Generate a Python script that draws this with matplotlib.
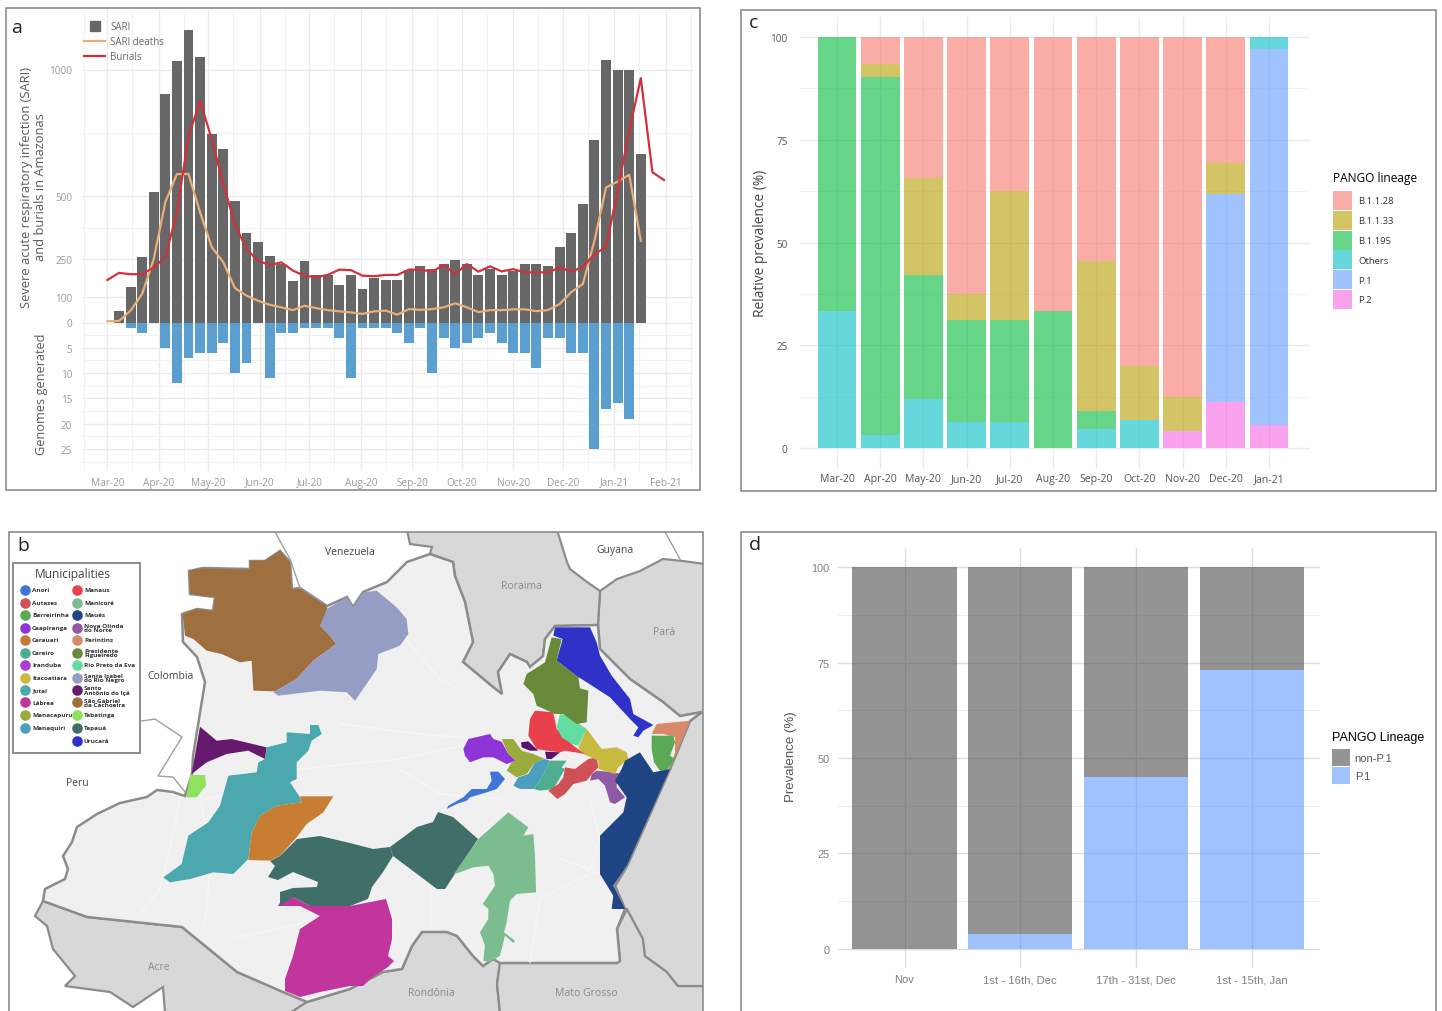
import matplotlib
matplotlib.use("Agg")
import matplotlib.pyplot as plt
import matplotlib.dates as mdates
from matplotlib.patches import Polygon, Rectangle, Patch
from matplotlib.lines import Line2D
import pandas as pd

plt.rcParams['font.family'] = ['Open Sans', 'DejaVu Sans']

W, H = 1442, 1012

# ---------- panel a data ----------
sari = [47,139,258,517,903,1035,1156,1050,745,686,479,353,317,262,231,164,244,188,188,148,188,132,
        176,169,169,207,222,211,231,248,231,187,211,189,205,231,231,224,298,353,468,722,1037,997,997,666]
genomes = [0,1,2,0,5,12,7,6,6,4,10,8,0,11,2,2,1,1,1,3,11,1,1,1,2,4,1,10,3,5,4,3,2,4,6,6,9,3,3,6,6,25,17,16,19,0]
burials = [168,196,191,191,218,258,436,737,875,725,547,389,290,244,227,238,205,185,179,188,209,207,185,183,188,188,
           209,209,201,227,192,231,201,222,202,211,198,198,198,218,201,219,270,298,521,758,966,594,563]
sari_deaths = [5,6,47,113,251,476,587,587,435,298,238,136,106,86,70,60,49,66,57,49,44,40,34,44,47,31,53,50,53,60,76,
               60,41,49,49,52,52,45,49,73,120,152,323,534,557,584,323]
sari_ticks = [0,100,250,500,1000]
genome_ticks = [5,10,15,20,25]

# ---------- panel c data ----------
months_c = ['Mar-20','Apr-20','May-20','Jun-20','Jul-20','Aug-20','Sep-20','Oct-20','Nov-20','Dec-20','Jan-21']
p2 =     [0,0,0,0,0,0,0,0,4.2,11.1,5.6]
p1 =     [0,0,0,0,0,0,0,0,0,50.8,91.6]
others = [33.3,3.2,11.8,6.25,6.25,0,4.5,6.7,0,0,2.8]
b1195 =  [66.7,87.1,30.4,25,25,33.3,4.6,0,0,0,0]
b1133 =  [0,3.2,23.4,6.25,31.25,0,36.4,13.3,8.3,7.4,0]
b1128 =  [0,6.5,34.4,62.5,37.5,66.7,54.5,80,87.5,30.7,0]
lineage_names = ['P.2','P.1','Others','B.1.195','B.1.1.33','B.1.1.28']
lineage_colors = ['#F564E3','#619CFF','#00BFC4','#00BA38','#B79F00','#F8766D']

# ---------- panel d data ----------
periods_d = ['Nov','1st - 16th, Dec','17th - 31st, Dec','1st - 15th, Jan']
p1_share = [0,4,45,73]
non_p1_share = [100,96,55,27]

# ---------- panel b data (outlines; zoom-crop coordinates) ----------
def zc(ox, oy, pts):
    return [(ox + x / 3, oy + y / 3) for x, y in pts]

amazonas = [(43,902),(45,890),(65,880),(68,870),(63,857),(72,843),(77,828),(97,815),(120,804),(147,798),(157,791),(173,793),
            (185,797),(192,775),(193,757),(205,683),(197,658),(183,643),(182,615),(197,610),(213,612),(215,598),(190,595),(189,572),(203,569),(250,570),(250,562),
            (265,562),(280,552),(290,563),(292,590),(300,589),(327,607),(347,598),(353,608),(363,593),(387,583),(407,563),(430,555),
            (453,563),(455,577),(465,603),(473,643),(463,663),(493,688),(502,695),(498,673),(510,655),(527,663),(530,668),
            (543,657),(545,640),(555,627),(598,626),(600,650),(630,680),(663,703),(680,717),(702,713),(690,722),(670,770),(627,867),
            (615,887),(625,910),(617,930),(620,962),(617,964),(500,964),(493,960),(483,967),(473,957),(457,937),(447,933),(422,933),
            (412,947),(402,970),(383,973),(350,990),(307,1003),(283,993),(237,973),(182,928),(87,918)]
acre = [(43,902),(87,918),(182,928),(237,973),(283,993),(307,1003),(290,1014),(165,1014),(163,988),(133,1008),(110,993),
        (65,987),(75,977),(53,950),(47,927),(35,917)]
rondonia = [(307,1003),(350,990),(383,973),(402,970),(412,947),(422,933),(447,933),(457,937),(473,957),(483,967),(493,960),
            (500,964),(497,985),(500,1014),(290,1014)]
mato_grosso = [(500,964),(617,964),(620,962),(617,930),(627,910),(643,940),(645,957),(667,973),(678,987),(705,987),(705,1014),
               (500,1014),(497,985)]
para = [(705,565),(705,987),(678,987),(667,973),(645,957),(643,940),(627,910),(625,910),(615,887),(627,867),(670,770),(690,722),
        (702,713),(680,717),(663,703),(630,680),(600,650),(598,626),(600,592),(617,580),(640,572),(663,560),(683,562)]
roraima = [(407,531),(557,531),(567,563),(570,570),(587,583),(600,592),(598,626),(555,627),(545,640),(543,657),(530,668),(527,663),
           (510,655),(498,673),(502,695),(493,688),(463,663),(473,643),(465,603),(455,577),(453,563),(430,555),(432,548),(410,545)]
border_col_ven = [(275,533),(290,560),(300,589)]
border_col_per = [(142,722),(155,720),(182,738),(158,777),(173,778),(185,793)]
border_guy_ven = [(665,533),(680,560)]
rivers = [[(180,800),(170,850),(160,890),(140,915)],[(200,790),(210,870),(205,925)],[(205,800),(250,790),(300,770),(400,760),(470,745)],
          [(340,725),(420,735),(480,740)],[(500,800),(440,795),(400,770)],[(560,860),(590,870),(600,840),(590,800)],
          [(530,964),(540,900),(590,875),(615,868)],[(430,890),(430,930)],[(380,610),(440,680),(460,690)],[(230,940),(300,925)]]

sao_gabriel = zc(150,530,[(118,125),(160,118),(300,122),(300,95),(345,95),(390,65),(420,100),(425,180),(450,180),(530,232),(535,255),
    (510,290),(540,320),(558,345),(490,395),(440,450),(375,487),(310,485),(305,395),(270,400),(215,375),(170,365),(130,330),(105,320),
    (98,255),(140,240),(190,245),(195,205),(120,195)])
santa_isabel = zc(150,530,[(530,240),(590,205),(610,235),(640,190),(680,185),(740,235),(770,270),(775,315),(750,350),(685,375),(680,420),
    (660,450),(615,515),(590,490),(510,485),(385,500),(370,490),(440,450),(490,395),(558,345),(540,320),(510,290)])
santo_antonio = zc(0,700,[(600,83),(650,125),(695,120),(800,145),(795,180),(745,155),(680,165),(620,190),(575,225)])
tabatinga = zc(0,700,[(570,228),(615,228),(618,260),(590,295),(560,295)])
jutai = zc(0,700,[(800,145),(860,130),(860,100),(930,105),(930,78),(955,78),(965,105),(935,125),(925,155),(890,190),(890,240),(870,250),
    (900,295),(905,310),(830,320),(780,350),(755,400),(745,480),(700,525),(640,520),(570,540),(510,550),(490,535),(545,495),(565,410),
    (625,370),(660,320),(685,230),(730,225),(770,220),(775,190),(795,180)])
carauari = zc(0,700,[(900,292),(1000,292),(970,340),(920,375),(890,415),(840,470),(810,485),(745,483),(755,400),(780,350),(830,320),(905,310)])
tapaua_west = [(297,840),(320,837),(350,844),(373,850),(390,848),(393,857),(383,873),(372,888),(368,900),(350,907),(310,907),(293,898),
    (280,907),(280,893),(293,889),(317,888),(318,883),(293,873),(278,881),(268,878),(275,867),(270,862),(280,857)]
tapaua_east = [(390,848),(417,828),(433,823),(438,813),(453,818),(478,840),(445,890),(437,890),(393,857)]
labrea = [(278,907),(283,898),(293,898),(310,907),(350,907),(386,900),(392,920),(392,940),(388,957),(394,962),(388,968),(370,980),(363,987),
    (350,987),(320,993),(300,998),(285,992),(285,980),(293,957),(300,930),(320,917),(300,907)]
manicore = zc(350,760,[(475,160),(535,205),(520,230),(550,225),(555,290),(558,400),(500,405),(480,425),(470,490),(462,520),(495,545),(490,552),
    (465,530),(450,590),(420,610),(400,605),(405,560),(390,520),(415,480),(415,450),(398,435),(435,380),(430,345),(415,320),(370,325),(310,347),(385,240)])
anori = zc(350,760,[(420,38),(445,38),(465,60),(440,90),(410,100),(360,115),(350,125),(320,135),(290,150),(283,165),(295,140),(340,115),(365,90),(410,90),(425,65)])
caapiranga = zc(450,710,[(40,120),(55,90),(120,75),(130,90),(155,98),(175,135),(198,155),(170,165),(130,145),(100,145),(60,160),(45,140)])
manacapuru = zc(450,710,[(155,90),(190,90),(215,125),(250,135),(285,150),(255,160),(230,195),(200,205),(170,185),(185,160),(198,155),(175,135)])
manaquiri = zc(450,710,[(255,160),(285,150),(300,155),(285,185),(270,215),(250,240),(210,240),(190,230),(205,205),(235,195)])
careiro = zc(450,710,[(300,155),(350,155),(335,175),(345,180),(325,215),(310,240),(270,245),(250,240),(270,215),(285,185)])
autazes = zc(450,710,[(345,175),(375,180),(415,150),(440,145),(445,175),(430,190),(410,215),(370,225),(345,255),(322,270),(295,245),(325,225),(340,205)])
nova_olinda = zc(450,710,[(425,195),(440,185),(490,190),(515,195),(500,225),(500,235),(525,265),(495,285),(480,280),(465,230),(445,210),(420,215)])
itacoatiara = zc(450,710,[(410,60),(440,100),(455,120),(500,115),(530,130),(535,150),(505,175),(495,195),(445,180),(445,155),(400,135),(385,115)])
manaus = zc(450,710,[(255,5),(310,10),(320,60),(345,85),(370,110),(405,135),(345,125),(330,130),(290,125),(260,120),(235,80),(240,30)])
rio_preto = zc(450,710,[(330,15),(355,20),(395,50),(410,60),(385,110),(365,105),(335,85),(320,55)])
dark_west = zc(450,710,[(213,100),(235,97),(265,125),(240,125),(215,115)])
dark_east = zc(450,710,[(285,128),(330,130),(305,150),(290,150)])
parintins = zc(430,600,[(680,375),(780,365),(720,510),(735,460),(735,415),(700,405),(665,405)])
barreirinha = zc(430,600,[(665,410),(730,410),(735,430),(720,470),(735,480),(710,515),(690,515),(672,490),(665,450)])
maues = zc(430,600,[(585,485),(630,460),(650,490),(670,520),(720,510),(590,800),(550,860),(585,930),(545,930),(550,890),(510,825),(510,710),(580,640),(590,595),(555,545),(575,510)])
urucara = zc(430,600,[(375,85),(480,85),(500,130),(510,170),(545,230),(600,300),(610,345),(670,378),(640,395),(625,415),(610,410),(625,385),(600,360),(540,295),(455,240),(445,235),(380,185),(398,120),(370,110)])
pres_fig = zc(430,600,[(365,115),(395,120),(380,185),(445,235),(450,268),(475,275),(470,370),(440,375),(400,345),(375,345),(320,320),(310,285),(280,255),(290,225),(345,190)])

muni_left = ['Anori','Autazes','Barreirinha','Caapiranga','Carauari','Careiro','Iranduba','Itacoatiara','Jutaí','Lábrea','Manacapuru','Manaquiri']
col_left = ['#3f74d9','#cf5055','#5aaa55','#8f35d8','#c4793a','#4eae8f','#ae3bcf','#c8b93f','#4aa8ae','#c2359c','#9aaa3b','#4a9fbf']
muni_right = ['Manaus','Manicoré','Maués','Nova Olinda\ndo Norte','Parintins','Presidente\nFigueiredo','Rio Preto da Eva','Santa Isabel\ndo Rio Negro',
              'Santo\nAntônio do Içá','São Gabriel\nda Cachoeira','Tabatinga','Tapauá','Urucará']
col_right = ['#e8414d','#7cbd90','#1f4585','#8f5aa5','#d78a68','#698a38','#62dca0','#969dc4','#661a6e','#9e6f3f','#8fe35c','#3f6f68','#2e32c8']
map_shapes = [(sao_gabriel,'#9e6f3f'),(santa_isabel,'#969dc4'),(santo_antonio,'#661a6e'),(tabatinga,'#8fe35c'),(jutai,'#4aa8ae'),(carauari,'#c77e33'),
              (labrea,'#c2359c'),(tapaua_west,'#3f6f68'),(tapaua_east,'#3f6f68'),(manicore,'#7cbd90'),(anori,'#3f74d9'),(caapiranga,'#8f35d8'),
              (manacapuru,'#9aaa3b'),(manaquiri,'#4a9fbf'),(careiro,'#4eae8f'),(autazes,'#cf5055'),(nova_olinda,'#8f5aa5'),(itacoatiara,'#c8b93f'),
              (manaus,'#e8414d'),(rio_preto,'#62dca0'),(dark_west,'#5c0f6c'),(dark_east,'#5c0f6c'),(parintins,'#d78a68'),(barreirinha,'#5aaa55'),
              (maues,'#1f4585'),(urucara,'#2e32c8'),(pres_fig,'#698a38')]

# ---------- helpers ----------
fig = plt.figure(figsize=(W / 100, H / 100), dpi=100, facecolor='white')

def px_axes(l, t, r, b, **kw):
    return fig.add_axes([l / W, 1 - b / H, (r - l) / W, (b - t) / H], **kw)

def ftext(x, y, s, **kw):
    kw.setdefault('ha', 'center')
    kw.setdefault('va', 'center')
    return fig.text(x / W, 1 - y / H, s, **kw)

def clean(ax):
    for s in ax.spines.values():
        s.set_visible(False)
    ax.tick_params(length=0)
    ax.set_axisbelow(True)

GRID = '#ebebeb'

# ---------- panel a ----------
axa = px_axes(82, 11, 693, 472)
clean(axa)
bar_dates = pd.date_range('2020-03-08', periods=len(sari), freq='7D')
line_dates = pd.date_range('2020-03-01', periods=len(burials), freq='7D')
axa.bar(bar_dates, sari, width=6, color='#676767', zorder=2)
axa.bar(bar_dates, [-20 * g for g in genomes], width=6, color='#5b9fd0', zorder=2)
axa.plot(line_dates[:len(sari_deaths)], sari_deaths, color='#e9ae78', lw=1.6, zorder=3)
axa.plot(line_dates, burials, color='#d3313a', lw=1.6, zorder=4)
t0 = mdates.date2num(pd.Timestamp('2020-03-01'))
axa.set_xlim(t0 - 15.3, t0 + 353.5)
axa.set_ylim((323.5 - 472) / 0.253, (323.5 - 11) / 0.253)
axa.xaxis.set_major_locator(mdates.MonthLocator())
axa.xaxis.set_major_formatter(mdates.DateFormatter('%b-%y'))
axa.xaxis.set_minor_locator(mdates.DayLocator(bymonthday=16))
yt = [-20 * g for g in genome_ticks] + sari_ticks
axa.set_yticks(yt)
axa.set_yticklabels([str(g) for g in genome_ticks] + [str(s) for s in sari_ticks])
axa.set_yticks([375, 750] + [-50, -150, -250, -350, -450, -550], minor=True)
axa.tick_params(which='both', length=0)
axa.tick_params(axis='both', labelsize=7.2, labelcolor='#9a9a9a', pad=7)
axa.tick_params(axis='x', pad=4)
axa.grid(which='major', color=GRID, lw=1)
axa.grid(which='minor', color='#f2f2f2', lw=0.8)
ftext(34, 187, 'Severe acute respiratory infection (SARI)\nand burials in Amazonas', rotation=90, fontsize=9.3, color='#5a5a5a', linespacing=1.1)
ftext(41, 394, 'Genomes generated', rotation=90, fontsize=9.2, color='#5a5a5a')
handles = [Line2D([], [], color='#676767', marker='s', ms=7, ls='none'),
           Line2D([], [], color='#e9ae78', lw=1.6),
           Line2D([], [], color='#d3313a', lw=1.6)]
fig.legend(handles, ['SARI', 'SARI deaths', 'Burials'], loc='upper left', bbox_to_anchor=(84 / W, 1 - 22 / H), frameon=False,
           fontsize=7, labelcolor='#666666', handlelength=2.2, handletextpad=0.5, labelspacing=0.42, borderpad=0, borderaxespad=0)

# ---------- panel c ----------
axc = px_axes(800, 17.5, 1310, 469.5)
clean(axc)
x_pos = list(range(len(months_c)))
bottom = [0] * len(months_c)
for name, vals, c in zip(lineage_names, [p2, p1, others, b1195, b1133, b1128], lineage_colors):
    axc.bar(x_pos, vals, bottom=bottom, width=0.9, color=c, alpha=0.6, lw=0, zorder=2)
    bottom = [b + v for b, v in zip(bottom, vals)]
axc.set_xlim((800 - 837) / 43.2, (1310 - 837) / 43.2)
axc.set_ylim(-5, 105)
axc.set_xticks(x_pos)
axc.set_xticklabels(months_c)
axc.set_yticks([0, 25, 50, 75, 100])
axc.set_yticks([12.5, 37.5, 62.5, 87.5], minor=True)
axc.tick_params(which='both', length=0)
axc.tick_params(axis='y', labelsize=7.2, labelcolor='#555555', pad=9)
axc.tick_params(axis='x', labelsize=7.6, labelcolor='#555555', pad=3)
axc.grid(which='major', color=GRID, lw=1)
axc.grid(which='minor', axis='y', color='#f2f2f2', lw=0.8)
ftext(760, 243, 'Relative prevalence (%)', rotation=90, fontsize=9.9, color='#444444')
leg_handles = [Patch(facecolor=c, alpha=0.6, edgecolor='none') for c in lineage_colors[::-1]]
leg_c = fig.legend(leg_handles, lineage_names[::-1], title='PANGO lineage', loc='upper left', bbox_to_anchor=(1333 / W, 1 - 172 / H), frameon=False,
           fontsize=6.8, title_fontsize=8.6, alignment='left', labelcolor='#333333', handlelength=2.0, handleheight=2.7, labelspacing=0.1,
           handletextpad=0.7, borderpad=0, borderaxespad=0)
leg_c._legend_box.sep = 5

# ---------- panel d ----------
axd = px_axes(838, 549, 1320, 969)
clean(axd)
x_d = list(range(len(periods_d)))
axd.bar(x_d, p1_share, width=0.9, color='#619CFF', alpha=0.6, lw=0, zorder=2)
axd.bar(x_d, non_p1_share, bottom=p1_share, width=0.9, color='#4d4d4d', alpha=0.6, lw=0, zorder=2)
axd.set_xlim((838 - 904.5) / 115.8, (1320 - 904.5) / 115.8)
axd.set_ylim(-5, 105)
axd.set_xticks(x_d)
axd.set_xticklabels(periods_d, family='Liberation Sans')
axd.set_yticks([0, 25, 50, 75, 100])
axd.set_yticklabels(['0', '25', '50', '75', '100'], family='Liberation Sans')
axd.set_yticks([12.5, 37.5, 62.5, 87.5], minor=True)
axd.tick_params(which='both', length=0)
axd.tick_params(axis='y', labelsize=7.8, labelcolor='#808080', pad=6)
axd.tick_params(axis='x', labelsize=8.1, labelcolor='#808080', pad=4.5)
axd.grid(which='major', color='#dcdcdc', lw=1)
axd.grid(which='minor', axis='y', color='#eeeeee', lw=0.8)
ftext(791, 757, 'Prevalence (%)', rotation=90, fontsize=9.5, color='#555555', family='Liberation Sans')
d_handles = [Patch(facecolor='#4d4d4d', alpha=0.6, edgecolor='none'), Patch(facecolor='#619CFF', alpha=0.6, edgecolor='none')]
leg_d = fig.legend(d_handles, ['non-P.1', 'P.1'], title='PANGO Lineage', loc='upper left', bbox_to_anchor=(1332 / W, 1 - 732 / H), frameon=False,
           prop={'family': 'Liberation Sans', 'size': 8}, title_fontproperties={'family': 'Liberation Sans', 'size': 9}, alignment='left',
           labelcolor='#555555', handlelength=1.6, handleheight=1.98, labelspacing=0.1, handletextpad=0.45, borderpad=0, borderaxespad=0)
leg_d._legend_box.sep = 4

# ---------- panel b ----------
axb = px_axes(9, 533, 703, 1012)
axb.set_xlim(9, 703)
axb.set_ylim(1012, 533)
axb.axis('off')
GRAY = '#d8d8d8'
EDGE = '#8c8c8c'
for shape in [acre, rondonia, mato_grosso, para, roraima]:
    axb.add_patch(Polygon(shape, closed=True, facecolor=GRAY, edgecolor=EDGE, lw=1.6, zorder=1))
axb.add_patch(Polygon(amazonas, closed=True, facecolor='#f0f0f1', edgecolor=EDGE, lw=1.8, zorder=2))
for line in [border_col_ven, border_col_per, border_guy_ven]:
    axb.plot(*zip(*line), color='#a0a0a0', lw=1, zorder=2)
for line in rivers:
    axb.plot(*zip(*line), color='#f8f8f8', lw=0.8, zorder=3)
for shape, c in map_shapes:
    axb.add_patch(Polygon(shape, closed=True, facecolor=c, edgecolor='none', zorder=4))
for (x, y, s) in [(350, 553, 'Venezuela'), (615, 551, 'Guyana'), (171, 677, 'Colombia'), (77, 784, 'Peru')]:
    axb.text(x, y, s, ha='center', va='center', fontsize=7.5, color='#444444', zorder=6)
for (x, y, s) in [(522, 587, 'Roraima'), (664, 633, 'Pará'), (159, 968, 'Acre'), (431, 994, 'Rondônia'), (586, 994, 'Mato Grosso')]:
    axb.text(x, y, s, ha='center', va='center', fontsize=7.5, color='#8a8a8a', zorder=6)
axb.add_patch(Rectangle((13, 564), 127, 190, facecolor='white', edgecolor='#8c8c8c', lw=1.4, zorder=7))
axb.text(73, 575, 'Municipalities', ha='center', va='center', fontsize=8.6, color='#444444', zorder=8)
rows_left = [590.7, 603.7, 616, 628.7, 641, 653.7, 666, 678.7, 691, 703.3, 716, 728.7]
rows_right = rows_left + [742]
for names, cols, rows, xm in [(muni_left, col_left, rows_left, 25), (muni_right, col_right, rows_right, 77)]:
    for n, c, y in zip(names, cols, rows):
        axb.scatter([xm], [y], s=58, color=c, zorder=8, lw=0)
        axb.text(xm + 7, y, n, ha='left', va='center', fontsize=4.6, fontweight='bold', color='#333333', zorder=8, linespacing=0.85)

# ---------- frames and panel letters ----------
for (l, t, r, b) in [(6, 9, 700, 491), (741, 11, 1436, 492), (9, 533, 703, 1030), (741, 533, 1436, 1030)]:
    fig.add_artist(Rectangle((l / W, 1 - b / H), (r - l) / W, (b - t) / H, transform=fig.transFigure, fill=False, edgecolor='#8c8c8c', lw=1.2))
for (x, y, s) in [(17, 28, 'a'), (23, 546, 'b'), (754, 23, 'c'), (755, 545, 'd')]:
    ftext(x, y, s, fontsize=14, color='#222222')

fig.savefig('out.png', dpi=100)
